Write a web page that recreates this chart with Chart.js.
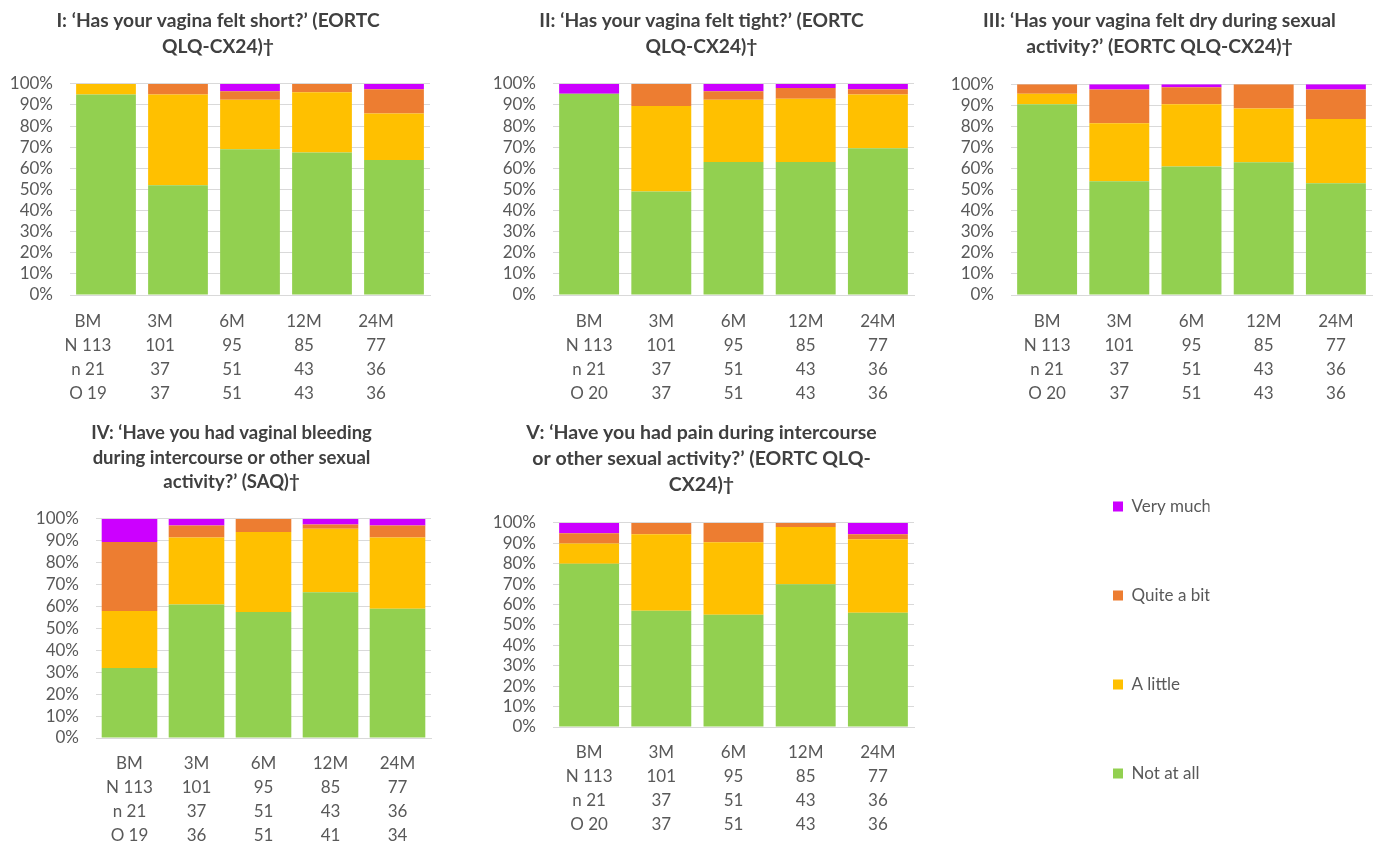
<!DOCTYPE html>
<html>
<head>
<meta charset="utf-8">
<script src="https://cdn.jsdelivr.net/npm/chart.js@4.4.0/dist/chart.umd.min.js"></script>
<style>
  html, body { margin: 0; padding: 0; background: #fff; overflow: hidden; }
  body { width: 1378px; height: 846px; position: relative; }
  .panel { position: absolute; }
</style>
</head>
<body>
<div class="panel" style="left:0px;top:0px;width:460px;height:410px"><canvas id="c1"></canvas></div>
<div class="panel" style="left:460px;top:0px;width:460px;height:410px"><canvas id="c2"></canvas></div>
<div class="panel" style="left:920px;top:0px;width:458px;height:410px"><canvas id="c3"></canvas></div>
<div class="panel" style="left:0px;top:420px;width:460px;height:426px"><canvas id="c4"></canvas></div>
<div class="panel" style="left:460px;top:420px;width:460px;height:426px"><canvas id="c5"></canvas></div>
<div class="panel" style="left:1041px;top:420px;width:337px;height:450px"><canvas id="c6"></canvas></div>

<script>
// --- DATA ---
const timepoints = ['BM', '3M', '6M', '12M', '24M'];
const rowN = [113, 101, 95, 85, 77];
const rowSmallN = [21, 37, 51, 43, 36];
const rowO_short = [19, 37, 51, 43, 36];
const rowO_tight = [20, 37, 51, 43, 36];
const rowO_dry = [20, 37, 51, 43, 36];
const rowO_bleed = [19, 36, 51, 41, 34];
const rowO_pain = [20, 37, 51, 43, 36];

const seriesNames = ['Not at all', 'A little', 'Quite a bit', 'Very much'];
const seriesColors = ['#92d050', '#ffc000', '#ed7d31', '#cc00ff'];

// I: short
const shortNotAtAll = [95, 52, 69, 67.5, 64];
const shortLittle   = [5, 43, 23.5, 28.5, 22];
const shortQuite    = [0, 5, 4, 4, 11.5];
const shortVery     = [0, 0, 3.5, 0, 2.5];
// II: tight
const tightNotAtAll = [95.3, 49, 63, 63, 69.5];
const tightLittle   = [0, 40.5, 29.5, 30, 25.5];
const tightQuite    = [0, 10.5, 4, 5, 2.5];
const tightVery     = [4.7, 0, 3.5, 2, 2.5];
// III: dry
const dryNotAtAll = [90.5, 54, 61, 63, 53];
const dryLittle   = [5, 27.5, 29.5, 25.5, 30.5];
const dryQuite    = [4.5, 16, 8, 11.5, 14];
const dryVery     = [0, 2.5, 1.5, 0, 2.5];
// IV: bleeding
const bleedNotAtAll = [32, 61, 57.5, 66.5, 59];
const bleedLittle   = [26, 30.5, 36.5, 29, 32.5];
const bleedQuite    = [31.5, 5.5, 6, 2, 5.5];
const bleedVery     = [10.5, 3, 0, 2.5, 3];
// V: pain
const painNotAtAll = [80, 57, 55, 70, 56];
const painLittle   = [10, 37.5, 35.5, 28, 36];
const painQuite    = [5, 5.5, 9.5, 2, 2.5];
const painVery     = [5, 0, 0, 0, 5.5];

const titleShort = ['I: \u2018Has your vagina felt short?\u2019 (EORTC', 'QLQ-CX24)\u2020'];
const titleTight = ['II: \u2018Has your vagina felt tight?\u2019 (EORTC', 'QLQ-CX24)\u2020'];
const titleDry = ['III: \u2018Has your vagina felt dry during sexual', 'activity?\u2019 (EORTC QLQ-CX24)\u2020'];
const titleBleed = ['IV: \u2018Have you had vaginal bleeding', 'during intercourse or other sexual', 'activity?\u2019 (SAQ)\u2020'];
const titlePain = ['V: \u2018Have you had pain during intercourse', 'or other sexual activity?\u2019 (EORTC QLQ-', 'CX24)\u2020'];

// --- STYLE ---
const FONT = 'Lato, "Open Sans", sans-serif';
const GREY = '#595959';
const GRID = '#d9d9d9';

Chart.defaults.font.family = FONT;
Chart.defaults.animation = false;

// category labels: 4 lines (time, N, n, O)
function buildLabels(oRow) {
    return timepoints.map((t, i) => [
        t,
        i === 0 ? 'N ' + rowN[i] : String(rowN[i]),
        i === 0 ? 'n ' + rowSmallN[i] : String(rowSmallN[i]),
        i === 0 ? 'O ' + oRow[i] : String(oRow[i])
    ]);
}

function makePanel(id, title, oRow, values, lay) {
    new Chart(document.getElementById(id), {
        type: 'bar',
        data: {
            labels: buildLabels(oRow),
            datasets: values.map((v, k) => ({
                label: seriesNames[k],
                data: v,
                backgroundColor: seriesColors[k],
                borderWidth: 0,
                barPercentage: 0.83,
                categoryPercentage: 1
            }))
        },
        options: {
            responsive: true,
            maintainAspectRatio: false,
            layout: { padding: { left: lay.padL, right: lay.padR, top: 0, bottom: 0 } },
            plugins: {
                legend: { display: false },
                tooltip: { enabled: false },
                title: {
                    display: true,
                    text: title,
                    color: '#404040',
                    font: { size: lay.tSize, weight: 'bold', lineHeight: lay.tLH },
                    padding: { top: lay.tTop, bottom: lay.tBottom }
                }
            },
            scales: {
                x: {
                    stacked: true,
                    grid: { display: false, drawTicks: false },
                    border: { color: GRID },
                    ticks: {
                        color: GREY, padding: lay.xPad, labelOffset: lay.lOff || 0,
                        maxRotation: 0, autoSkip: false,
                        font: { size: 17, lineHeight: lay.xLH }
                    },
                    afterFit: s => { s.height = lay.xH; }
                },
                y: {
                    stacked: true,
                    min: 0, max: 100,
                    grid: { color: GRID, drawTicks: false },
                    border: { display: false },
                    ticks: {
                        stepSize: 10, autoSkip: false, color: GREY, padding: 17,
                        font: { size: 17 },
                        callback: v => v + '%'
                    },
                    afterFit: s => { s.width = lay.yW; }
                }
            }
        }
    });
}

const topRow = { tLH: 1.39, tTop: 7, tBottom: 23.5, xH: 115, xPad: 15, xLH: 1.4, yW: 64 };

makePanel('c1', titleShort, rowO_short, [shortNotAtAll, shortLittle, shortQuite, shortVery],
    Object.assign({}, topRow, { tSize: 19.2, padL: 6, padR: 30, lOff: -18 }));
makePanel('c2', titleTight, rowO_tight, [tightNotAtAll, tightLittle, tightQuite, tightVery],
    Object.assign({}, topRow, { tSize: 19.2, padL: 29, padR: 6 }));
makePanel('c3', titleDry, rowO_dry, [dryNotAtAll, dryLittle, dryQuite, dryVery],
    Object.assign({}, topRow, { tSize: 19.3, padL: 27, padR: 6 }));
makePanel('c4', titleBleed, rowO_bleed, [bleedNotAtAll, bleedLittle, bleedQuite, bleedVery],
    { padL: 32, padR: 29, yW: 64, tSize: 18.5, tLH: 1.324, tTop: 1, tBottom: 24.5, xH: 108, xPad: 14, xLH: 1.41 });
makePanel('c5', titlePain, rowO_pain, [painNotAtAll, painLittle, painQuite, painVery],
    { padL: 29, padR: 6, yW: 64, tSize: 19.5, tLH: 1.333, tTop: 0, tBottom: 25, xH: 119, xPad: 14, xLH: 1.41 });

// legend only chart
new Chart(document.getElementById('c6'), {
    type: 'bar',
    data: {
        labels: [],
        datasets: seriesNames.map((n, k) => ({ label: n, data: [], backgroundColor: seriesColors[k] }))
    },
    options: {
        responsive: true,
        maintainAspectRatio: false,
        layout: { padding: { top: 6 } },
        scales: { x: { display: false }, y: { display: false } },
        plugins: {
            tooltip: { enabled: false },
            legend: {
                position: 'left',
                align: 'start',
                reverse: true,
                labels: { boxWidth: 10, boxHeight: 10, padding: 72, color: GREY, font: { size: 17 } }
            }
        }
    }
});
</script>
</body>
</html>
